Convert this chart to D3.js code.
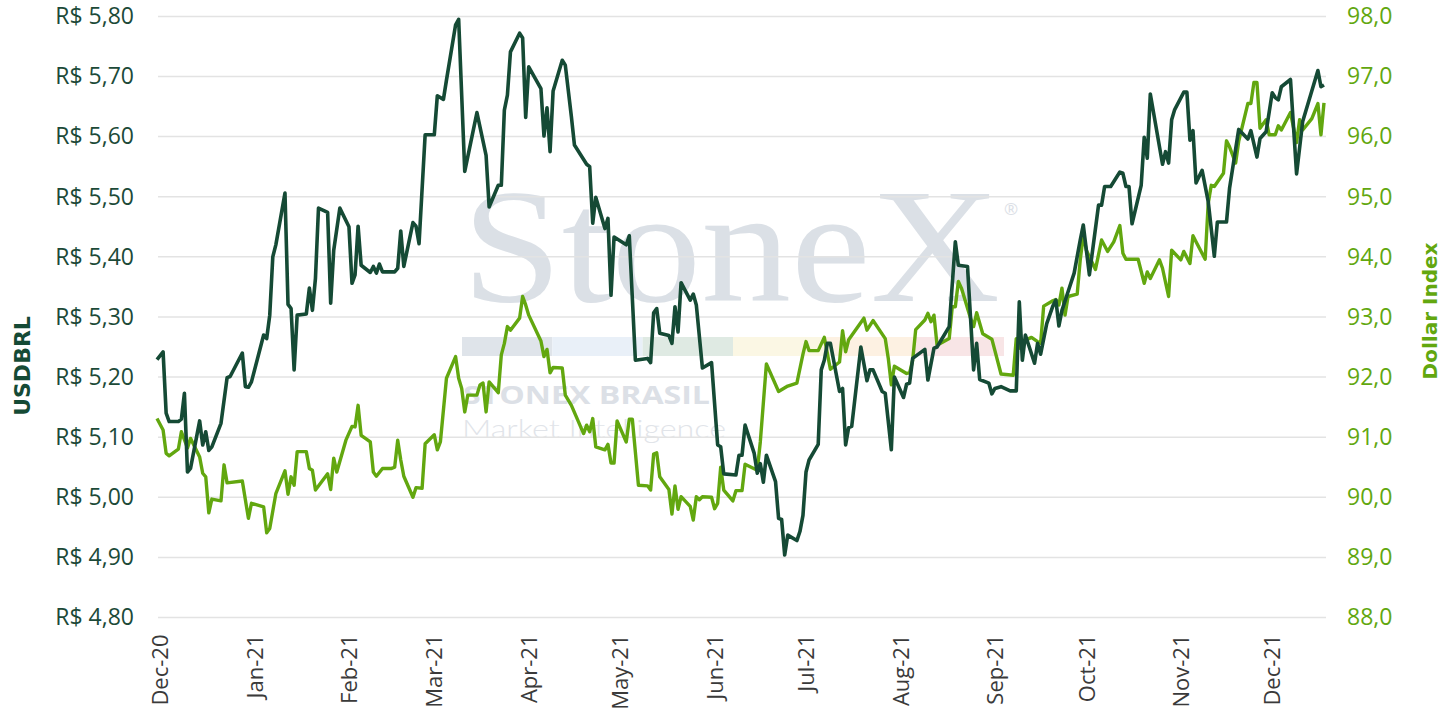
<!DOCTYPE html>
<html>
<head>
<meta charset="utf-8">
<script src="https://cdn.jsdelivr.net/npm/d3@7"></script>
<style>
  html, body { margin: 0; padding: 0; background: #fff; }
  svg { display: block; font-family: "Open Sans", sans-serif; }
</style>
</head>
<body>
<div id="chart"></div>
<script>
// USDBRL (eixo esquerdo)
const usdDates = [
  "2020-11-30","2020-12-02","2020-12-03","2020-12-04","2020-12-07","2020-12-08","2020-12-09","2020-12-10","2020-12-11","2020-12-14",
  "2020-12-15","2020-12-16","2020-12-17","2020-12-18","2020-12-21","2020-12-23","2020-12-24","2020-12-28","2020-12-29","2020-12-30",
  "2020-12-31","2021-01-04","2021-01-05","2021-01-06","2021-01-07","2021-01-08","2021-01-11","2021-01-12","2021-01-13","2021-01-14",
  "2021-01-15","2021-01-18","2021-01-19","2021-01-20","2021-01-21","2021-01-22","2021-01-25","2021-01-26","2021-01-27","2021-01-29",
  "2021-02-01","2021-02-02","2021-02-03","2021-02-04","2021-02-05","2021-02-08","2021-02-09","2021-02-10","2021-02-11","2021-02-12",
  "2021-02-16","2021-02-17","2021-02-18","2021-02-19","2021-02-22","2021-02-23","2021-02-24","2021-02-26","2021-03-01","2021-03-02",
  "2021-03-04","2021-03-05","2021-03-08","2021-03-09","2021-03-11","2021-03-15","2021-03-18","2021-03-19","2021-03-22","2021-03-23",
  "2021-03-24","2021-03-25","2021-03-26","2021-03-29","2021-03-30","2021-03-31","2021-04-01","2021-04-05","2021-04-06","2021-04-07",
  "2021-04-08","2021-04-09","2021-04-12","2021-04-13","2021-04-15","2021-04-16","2021-04-20","2021-04-21","2021-04-22","2021-04-23",
  "2021-04-26","2021-04-27","2021-04-28","2021-04-29","2021-05-03","2021-05-04","2021-05-06","2021-05-10","2021-05-11","2021-05-12",
  "2021-05-13","2021-05-14","2021-05-17","2021-05-18","2021-05-19","2021-05-20","2021-05-21","2021-05-24","2021-05-25","2021-05-26",
  "2021-05-28","2021-05-31","2021-06-02","2021-06-03","2021-06-04","2021-06-08","2021-06-09","2021-06-10","2021-06-11","2021-06-14",
  "2021-06-15","2021-06-16","2021-06-17","2021-06-18","2021-06-21","2021-06-22","2021-06-23","2021-06-24","2021-06-25","2021-06-28",
  "2021-06-29","2021-06-30","2021-07-01","2021-07-02","2021-07-05","2021-07-06","2021-07-07","2021-07-08","2021-07-09","2021-07-12",
  "2021-07-13","2021-07-14","2021-07-15","2021-07-16","2021-07-19","2021-07-21","2021-07-22","2021-07-23","2021-07-26","2021-07-27",
  "2021-07-29","2021-07-30","2021-08-02","2021-08-03","2021-08-04","2021-08-05","2021-08-09","2021-08-10","2021-08-12","2021-08-13",
  "2021-08-17","2021-08-19","2021-08-20","2021-08-23","2021-08-25","2021-08-26","2021-08-27","2021-08-30","2021-08-31","2021-09-01",
  "2021-09-03","2021-09-06","2021-09-08","2021-09-09","2021-09-10","2021-09-11","2021-09-14","2021-09-15","2021-09-16","2021-09-18",
  "2021-09-20","2021-09-21","2021-09-22","2021-09-23","2021-09-25","2021-09-27","2021-09-29","2021-09-30","2021-10-02","2021-10-05",
  "2021-10-06","2021-10-07","2021-10-09","2021-10-12","2021-10-13","2021-10-14","2021-10-15","2021-10-16","2021-10-19","2021-10-20",
  "2021-10-21","2021-10-22","2021-10-26","2021-10-27","2021-10-28","2021-10-29","2021-10-30","2021-11-02","2021-11-03","2021-11-04",
  "2021-11-05","2021-11-06","2021-11-08","2021-11-10","2021-11-12","2021-11-13","2021-11-16","2021-11-17","2021-11-20","2021-11-23",
  "2021-11-24","2021-11-26","2021-11-27","2021-11-29","2021-12-01","2021-12-02","2021-12-03","2021-12-04","2021-12-07","2021-12-08",
  "2021-12-09","2021-12-11","2021-12-16","2021-12-17","2021-12-18"
];
const usdValues = [
  5.229,5.242,5.140,5.126,5.126,5.130,5.173,5.042,5.048,5.127,
  5.087,5.109,5.078,5.084,5.123,5.199,5.201,5.240,5.184,5.183,
  5.192,5.270,5.264,5.303,5.400,5.420,5.506,5.321,5.314,5.212,
  5.303,5.305,5.348,5.311,5.364,5.481,5.474,5.323,5.411,5.481,
  5.450,5.356,5.370,5.451,5.386,5.374,5.384,5.373,5.388,5.375,
  5.375,5.381,5.443,5.384,5.457,5.451,5.422,5.603,5.603,5.668,
  5.662,5.694,5.786,5.795,5.542,5.640,5.569,5.483,5.519,5.519,
  5.644,5.669,5.741,5.772,5.764,5.632,5.716,5.680,5.601,5.648,
  5.575,5.676,5.727,5.719,5.633,5.586,5.554,5.550,5.456,5.499,
  5.447,5.464,5.336,5.433,5.420,5.435,5.228,5.231,5.224,5.307,
  5.314,5.273,5.269,5.256,5.317,5.275,5.357,5.328,5.338,5.320,
  5.215,5.224,5.087,5.084,5.039,5.037,5.070,5.070,5.120,5.073,
  5.040,5.056,5.025,5.070,5.026,4.965,4.963,4.904,4.937,4.928,
  4.943,4.970,5.042,5.062,5.088,5.212,5.228,5.256,5.256,5.176,
  5.181,5.087,5.116,5.118,5.250,5.194,5.212,5.212,5.176,5.173,
  5.079,5.200,5.166,5.188,5.190,5.231,5.246,5.195,5.248,5.250,
  5.284,5.425,5.386,5.384,5.212,5.256,5.196,5.190,5.172,5.181,
  5.184,5.177,5.177,5.325,5.228,5.270,5.223,5.256,5.238,5.289,
  5.318,5.328,5.285,5.311,5.342,5.373,5.428,5.453,5.370,5.486,
  5.486,5.517,5.517,5.541,5.539,5.517,5.517,5.455,5.519,5.599,
  5.564,5.671,5.554,5.575,5.556,5.628,5.645,5.674,5.674,5.594,
  5.610,5.523,5.544,5.492,5.401,5.458,5.458,5.514,5.612,5.596,
  5.610,5.566,5.597,5.608,5.673,5.665,5.661,5.683,5.695,5.616,
  5.538,5.625,5.710,5.683,5.686
];

// Dollar Index (eixo direito)
const dxyDates = [
  "2020-11-30","2020-12-02","2020-12-03","2020-12-04","2020-12-07","2020-12-08","2020-12-10","2020-12-11","2020-12-14","2020-12-15",
  "2020-12-16","2020-12-17","2020-12-18","2020-12-21","2020-12-22","2020-12-23","2020-12-28","2020-12-30","2020-12-31","2021-01-04",
  "2021-01-05","2021-01-06","2021-01-08","2021-01-11","2021-01-12","2021-01-13","2021-01-14","2021-01-15","2021-01-18","2021-01-19",
  "2021-01-20","2021-01-21","2021-01-25","2021-01-26","2021-01-27","2021-01-28","2021-01-31","2021-02-02","2021-02-03","2021-02-04",
  "2021-02-05","2021-02-08","2021-02-09","2021-02-10","2021-02-12","2021-02-15","2021-02-16","2021-02-17","2021-02-18","2021-02-19",
  "2021-02-22","2021-02-23","2021-02-25","2021-02-26","2021-03-01","2021-03-02","2021-03-03","2021-03-05","2021-03-08","2021-03-09",
  "2021-03-10","2021-03-11","2021-03-12","2021-03-15","2021-03-16","2021-03-17","2021-03-18","2021-03-19","2021-03-22","2021-03-23",
  "2021-03-24","2021-03-25","2021-03-26","2021-03-29","2021-03-30","2021-03-31","2021-04-01","2021-04-05","2021-04-06","2021-04-07",
  "2021-04-08","2021-04-09","2021-04-12","2021-04-13","2021-04-15","2021-04-19","2021-04-20","2021-04-21","2021-04-22","2021-04-23",
  "2021-04-26","2021-04-27","2021-04-28","2021-04-29","2021-04-30","2021-05-03","2021-05-04","2021-05-05","2021-05-07","2021-05-10",
  "2021-05-11","2021-05-12","2021-05-13","2021-05-14","2021-05-17","2021-05-18","2021-05-19","2021-05-20","2021-05-21","2021-05-24",
  "2021-05-25","2021-05-26","2021-05-27","2021-05-28","2021-05-31","2021-06-01","2021-06-02","2021-06-03","2021-06-04","2021-06-07",
  "2021-06-08","2021-06-10","2021-06-11","2021-06-15","2021-06-16","2021-06-18","2021-06-22","2021-06-25","2021-06-28","2021-06-30",
  "2021-07-01","2021-07-02","2021-07-05","2021-07-07","2021-07-09","2021-07-12","2021-07-13","2021-07-14","2021-07-15","2021-07-20",
  "2021-07-21","2021-07-23","2021-07-27","2021-07-28","2021-07-29","2021-07-30","2021-08-03","2021-08-04","2021-08-05","2021-08-06",
  "2021-08-09","2021-08-10","2021-08-11","2021-08-12","2021-08-13","2021-08-17","2021-08-18","2021-08-19","2021-08-20","2021-08-21",
  "2021-08-24","2021-08-25","2021-08-26","2021-08-28","2021-08-31","2021-09-03","2021-09-07","2021-09-08","2021-09-09","2021-09-10",
  "2021-09-13","2021-09-15","2021-09-16","2021-09-17","2021-09-20","2021-09-21","2021-09-22","2021-09-23","2021-09-24","2021-09-25",
  "2021-09-28","2021-09-29","2021-09-30","2021-10-01","2021-10-04","2021-10-06","2021-10-08","2021-10-10","2021-10-12","2021-10-13",
  "2021-10-14","2021-10-18","2021-10-20","2021-10-21","2021-10-22","2021-10-25","2021-10-26","2021-10-28","2021-10-29","2021-11-01",
  "2021-11-02","2021-11-04","2021-11-05","2021-11-06","2021-11-09","2021-11-10","2021-11-11","2021-11-12","2021-11-15","2021-11-16",
  "2021-11-17","2021-11-19","2021-11-20","2021-11-23","2021-11-24","2021-11-25","2021-11-26","2021-11-27","2021-11-29","2021-11-30",
  "2021-12-02","2021-12-03","2021-12-04","2021-12-07","2021-12-09","2021-12-10","2021-12-11","2021-12-14","2021-12-16","2021-12-17",
  "2021-12-18"
];
const dxyValues = [
  91.31,91.12,90.73,90.69,90.80,91.09,90.82,90.98,90.67,90.40,
  90.34,89.74,89.97,89.94,90.54,90.24,90.27,89.65,89.90,89.84,
  89.41,89.48,90.06,90.44,90.05,90.34,90.20,90.76,90.76,90.48,
  90.45,90.12,90.39,90.13,90.65,90.42,90.95,91.18,91.17,91.53,
  91.03,90.92,90.42,90.35,90.48,90.48,90.50,90.95,90.62,90.35,
  90.00,90.16,90.15,90.89,91.04,90.79,90.92,91.98,92.34,91.98,
  91.81,91.42,91.70,91.70,91.87,91.90,91.42,91.92,91.74,92.37,
  92.56,92.84,92.78,92.98,93.34,93.20,93.03,92.60,92.34,92.46,
  92.07,92.16,92.15,91.70,91.53,91.06,91.20,91.09,91.31,90.84,
  90.79,90.88,90.57,90.57,91.27,90.92,91.30,91.30,90.20,90.19,
  90.12,90.72,90.74,90.34,90.13,89.72,90.19,89.80,90.01,89.85,
  89.62,90.01,89.96,90.01,90.00,89.81,89.90,90.50,90.12,89.94,
  90.11,90.11,90.55,90.45,90.92,92.22,91.76,91.85,91.90,92.38,
  92.59,92.44,92.44,92.66,92.13,92.25,92.77,92.42,92.62,92.98,
  92.78,92.94,92.64,92.31,91.87,92.18,92.06,92.07,92.28,92.79,
  92.95,93.06,92.92,93.03,92.53,92.64,93.17,93.17,93.59,93.48,
  92.98,92.84,93.07,92.72,92.63,92.05,92.03,92.64,92.48,92.59,
  92.66,92.59,92.56,93.18,93.27,93.29,93.20,93.48,93.03,93.34,
  93.38,93.95,94.36,94.11,93.79,94.28,94.09,94.25,94.52,94.06,
  93.96,93.96,93.56,93.75,93.64,93.95,93.81,93.34,94.11,93.95,
  94.09,93.89,94.35,94.25,93.96,94.89,95.19,95.17,95.39,95.93,
  95.83,95.56,95.92,96.55,96.55,96.90,96.90,96.14,96.28,96.03,
  96.03,96.18,96.11,96.40,95.90,96.28,96.11,96.30,96.55,96.03,
  96.56
];

const usdTicks = [4.8, 4.9, 5.0, 5.1, 5.2, 5.3, 5.4, 5.5, 5.6, 5.7, 5.8];
const dxyTicks = [88, 89, 90, 91, 92, 93, 94, 95, 96, 97, 98];
const monthTicks = ["2020-12-01","2021-01-01","2021-02-01","2021-03-01","2021-04-01","2021-05-01",
                    "2021-06-01","2021-07-01","2021-08-01","2021-09-01","2021-10-01","2021-11-01","2021-12-01"];
const wmBars = ["#dfe4ea", "#e9f0f8", "#dfeae3", "#fbf7e4", "#fdf1e2", "#f8e5e6"];

const parse = d3.timeParse("%Y-%m-%d");
const usd = usdDates.map((d, i) => ({ date: parse(d), value: usdValues[i] }));
const dxy = dxyDates.map((d, i) => ({ date: parse(d), value: dxyValues[i] }));

const width = 1452, height = 719;
const plotLeft = 158, plotRight = 1326, plotTop = 16.4, plotBottom = 617.5;

const ptBR = d3.formatLocale({ decimal: ",", thousands: ".", grouping: [3], currency: ["R$ ", ""] });
const fmtUsd = ptBR.format(".2f");
const fmtDxy = ptBR.format(".1f");
const fmtMonth = d3.timeFormat("%b-%y");

const darkGreen = "#154a35";
const lightGreen = "#62a70f";
const tickFont = "'Open Sans', sans-serif";
const titleFont = "'DejaVu Sans', sans-serif";

const svg = d3.select("#chart").append("svg")
    .attr("width", width)
    .attr("height", height);

const x = d3.scaleTime()
    .domain([parse("2020-11-30"), parse("2021-12-18")])
    .range([157, 1324]);
const yL = d3.scaleLinear().domain([4.8, 5.8]).range([plotBottom, plotTop]);
const yR = d3.scaleLinear().domain([88, 98]).range([plotBottom, plotTop]);

// marca d'agua
const wm = svg.append("g").attr("class", "watermark");
wm.append("text")
    .attr("x", 462).attr("y", 301)
    .attr("font-family", "'Liberation Serif', 'DejaVu Serif', serif")
    .attr("font-size", 164)
    .attr("textLength", 538).attr("lengthAdjust", "spacingAndGlyphs")
    .attr("fill", "#dbe0e6")
    .text("StoneX");
wm.append("text")
    .attr("x", 1004).attr("y", 215)
    .attr("font-size", 17)
    .attr("fill", "#dbe0e6")
    .text("®");
const barW = (1004 - 462) / 6;
wm.selectAll("rect")
    .data(wmBars)
    .join("rect")
    .attr("x", (d, i) => 462 + i * barW)
    .attr("y", 337)
    .attr("width", barW)
    .attr("height", 19)
    .attr("fill", d => d);
wm.append("text")
    .attr("x", 463).attr("y", 404)
    .attr("font-family", "'Open Sans', sans-serif")
    .attr("font-size", 25).attr("font-weight", 700)
    .attr("textLength", 247).attr("lengthAdjust", "spacingAndGlyphs")
    .attr("fill", "#dce0e6")
    .text("STONEX BRASIL");
wm.append("text")
    .attr("x", 462).attr("y", 438)
    .attr("font-family", "Lato, sans-serif")
    .attr("font-size", 25).attr("font-weight", 300)
    .attr("textLength", 264).attr("lengthAdjust", "spacingAndGlyphs")
    .attr("fill", "#e1e4e9")
    .text("Market Intelligence");

// grade
svg.append("g")
    .selectAll("line")
    .data(usdTicks)
    .join("line")
    .attr("x1", plotLeft).attr("x2", plotRight)
    .attr("y1", d => yL(d)).attr("y2", d => yL(d))
    .attr("stroke", "#e3e3e3")
    .attr("stroke-width", 1.5);

// eixos
const axisL = svg.append("g")
    .attr("transform", `translate(${plotLeft},0)`)
    .call(d3.axisLeft(yL).tickValues(usdTicks).tickFormat(d => "R$ " + fmtUsd(d)).tickSize(0).tickPadding(24));
axisL.select(".domain").remove();
axisL.selectAll("text")
    .attr("font-family", tickFont)
    .attr("font-size", 23)
    .attr("fill", "#1c4a38");

const axisR = svg.append("g")
    .attr("transform", `translate(${plotRight},0)`)
    .call(d3.axisRight(yR).tickValues(dxyTicks).tickFormat(fmtDxy).tickSize(0).tickPadding(21));
axisR.select(".domain").remove();
axisR.selectAll("text")
    .attr("font-family", tickFont)
    .attr("font-size", 23)
    .attr("fill", lightGreen);

const axisB = svg.append("g")
    .attr("transform", `translate(0,${plotBottom})`)
    .call(d3.axisBottom(x).tickValues(monthTicks.map(parse)).tickFormat(fmtMonth).tickSize(0));
axisB.select(".domain").remove();
axisB.selectAll("text")
    .attr("font-family", tickFont)
    .attr("font-size", 22)
    .attr("fill", "#3a3a3a")
    .attr("text-anchor", "end")
    .attr("transform", "rotate(-90)")
    .attr("x", -17)
    .attr("y", 0)
    .attr("dy", "0.35em");

// titulos dos eixos
svg.append("text")
    .attr("transform", "translate(30,366) rotate(-90)")
    .attr("text-anchor", "middle")
    .attr("font-family", titleFont)
    .attr("font-size", 22).attr("font-weight", 700)
    .attr("fill", darkGreen)
    .text("USDBRL");
svg.append("text")
    .attr("transform", "translate(1437,311) rotate(-90)")
    .attr("text-anchor", "middle")
    .attr("font-family", titleFont)
    .attr("font-size", 20).attr("font-weight", 700)
    .attr("fill", lightGreen)
    .text("Dollar Index");

// linhas
const lineDxy = d3.line().x(d => x(d.date)).y(d => yR(d.value));
const lineUsd = d3.line().x(d => x(d.date)).y(d => yL(d.value));

svg.append("path")
    .datum(dxy)
    .attr("fill", "none")
    .attr("stroke", lightGreen)
    .attr("stroke-width", 3.4)
    .attr("stroke-linejoin", "round")
    .attr("d", lineDxy);

svg.append("path")
    .datum(usd)
    .attr("fill", "none")
    .attr("stroke", darkGreen)
    .attr("stroke-width", 3.6)
    .attr("stroke-linejoin", "round")
    .attr("d", lineUsd);
</script>
</body>
</html>
